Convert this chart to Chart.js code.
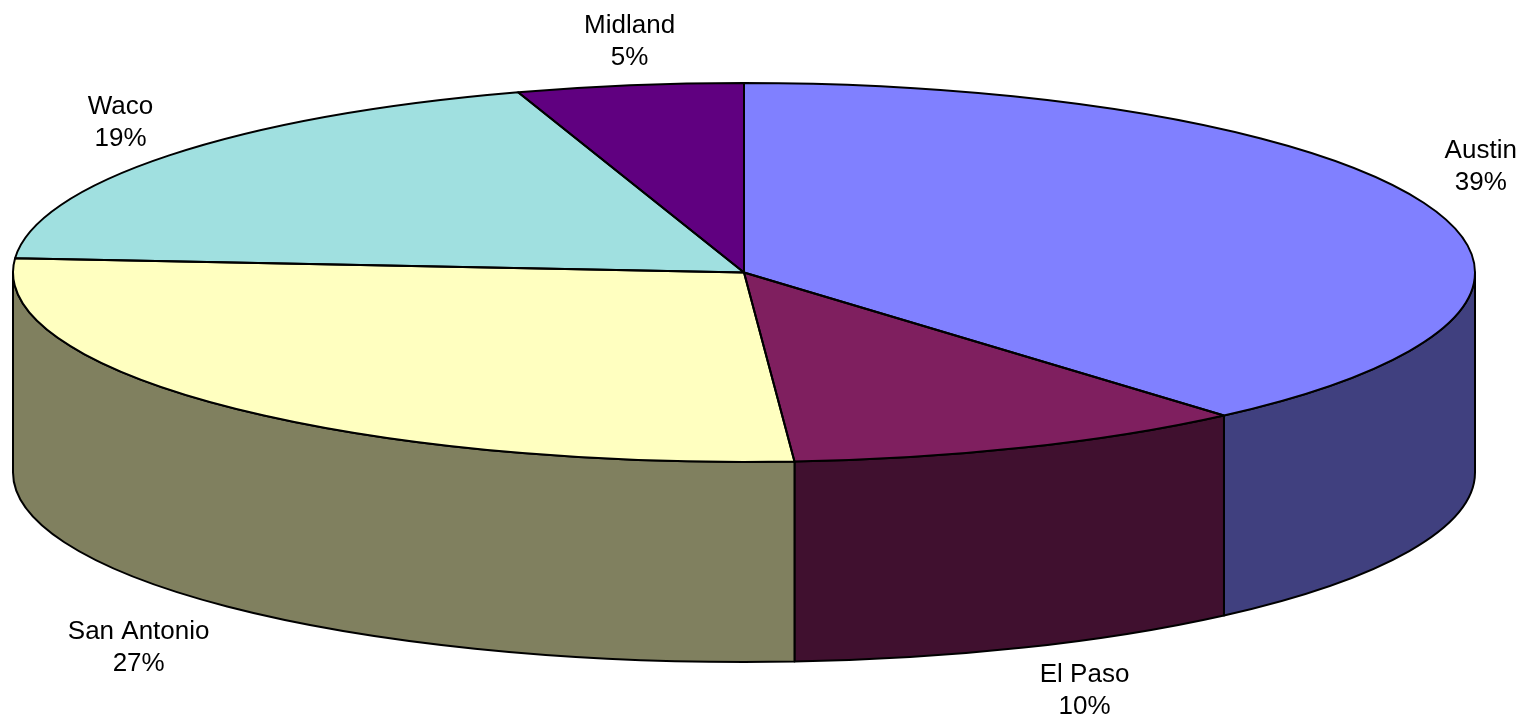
<!DOCTYPE html>
<html>
<head>
<meta charset="utf-8">
<script src="https://cdn.jsdelivr.net/npm/chart.js@4/dist/chart.umd.min.js"></script>
<style>
  html, body { margin: 0; padding: 0; background: #ffffff; }
  canvas { display: block; }
</style>
</head>
<body>
<canvas id="c" width="1529" height="726"></canvas>
<script>
// ---- data ----
const categories = ['Austin', 'El Paso', 'San Antonio', 'Waco', 'Midland'];
const shares = [38.6, 10.3, 27.3, 18.8, 5.0];
const pctLabels = ['39%', '10%', '27%', '19%', '5%'];
const topColors = ['#8080FF', '#7F1F5F', '#FFFFC0', '#A0E0E0', '#600080'];
const sideColors = ['#40407F', '#40102F', '#80805F', '#507070', '#300040'];

// ---- 3D projection geometry ----
const G = { cx: 744, cy: 272.5, rx: 731, ry: 189.5, depth: 200 };

function arcProps(chart) {
  return chart.getDatasetMeta(0).data.map(a =>
    a.getProps(['x', 'y', 'startAngle', 'endAngle', 'outerRadius'], true));
}

const pie3d = {
  id: 'pie3d',
  beforeDatasetsDraw(chart) {
    const ctx = chart.ctx;
    const arcs = arcProps(chart);
    // side walls (front half only)
    ctx.save();
    ctx.lineWidth = 2;
    ctx.strokeStyle = '#000';
    ctx.lineJoin = 'round';
    arcs.forEach((p, i) => {
      const a = Math.max(p.startAngle, 0);
      const b = Math.min(p.endAngle, Math.PI);
      if (b <= a) return;
      ctx.beginPath();
      ctx.ellipse(G.cx, G.cy, G.rx, G.ry, 0, a, b);
      ctx.lineTo(G.cx + G.rx * Math.cos(b), G.cy + G.ry * Math.sin(b) + G.depth);
      ctx.ellipse(G.cx, G.cy + G.depth, G.rx, G.ry, 0, b, a, true);
      ctx.closePath();
      ctx.fillStyle = sideColors[i];
      ctx.fill();
      ctx.stroke();
    });
    ctx.restore();
    // squash the library's round pie into the top ellipse
    const p0 = arcs[0];
    const R = p0.outerRadius;
    ctx.save();
    ctx.translate(G.cx, G.cy);
    ctx.scale(G.rx / R, G.ry / R);
    ctx.translate(-p0.x, -p0.y);
  },
  afterDatasetsDraw(chart) {
    const ctx = chart.ctx;
    ctx.restore();
    const arcs = arcProps(chart);
    // slice outlines
    ctx.save();
    ctx.lineWidth = 2;
    ctx.strokeStyle = '#000';
    ctx.lineJoin = 'round';
    arcs.forEach(p => {
      ctx.beginPath();
      ctx.moveTo(G.cx, G.cy);
      ctx.ellipse(G.cx, G.cy, G.rx, G.ry, 0, p.startAngle, p.endAngle);
      ctx.closePath();
      ctx.stroke();
    });
    ctx.restore();
    // labels
    ctx.save();
    ctx.font = '26px "Liberation Sans", Arial, sans-serif';
    ctx.fillStyle = '#000';
    ctx.textAlign = 'center';
    ctx.textBaseline = 'middle';
    const lh = 32;
    arcs.forEach((p, i) => {
      const m = (p.startAngle + p.endAngle) / 2;
      const c = Math.cos(m), s = Math.sin(m);
      const ax = G.cx + G.rx * c;
      const ay = G.cy + G.ry * s + (s > 0 ? G.depth : 0);
      const w = Math.max(ctx.measureText(categories[i]).width, ctx.measureText(pctLabels[i]).width);
      const dx = Math.abs(c) < 0.25 ? 0 : Math.sign(c) * (w / 2 + 16);
      const dy = Math.sign(s) * (lh + 4 + 8 * Math.abs(s) - (Math.abs(c) > 0.7 && s < 0 && c < 0 ? 8 : 0));
      const x = ax + dx, y = ay + dy;
      ctx.fillText(categories[i], x, y - lh / 2);
      ctx.fillText(pctLabels[i], x, y + lh / 2);
    });
    ctx.restore();
  }
};

new Chart(document.getElementById('c'), {
  type: 'pie',
  data: {
    labels: categories,
    datasets: [{
      data: shares,
      backgroundColor: topColors,
      borderWidth: 0,
      clip: false
    }]
  },
  options: {
    responsive: false,
    devicePixelRatio: 1,
    animation: false,
    events: [],
    layout: { padding: 0 },
    plugins: {
      legend: { display: false },
      tooltip: { enabled: false }
    }
  },
  plugins: [pie3d]
});
</script>
</body>
</html>
